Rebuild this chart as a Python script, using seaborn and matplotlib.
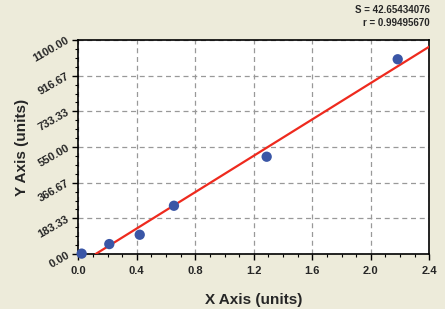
import numpy as np
import pandas as pd
import matplotlib
matplotlib.use("Agg")
import matplotlib.pyplot as plt
from matplotlib.ticker import AutoMinorLocator, FixedLocator
import seaborn as sns

# Data
x_vals = [0.023, 0.212, 0.42, 0.654, 1.288, 2.184]
y_vals = [2, 51, 99, 248, 500, 1001]
fit_slope = [467.3]
fit_intercept = [-55.6]
x_ticks = [0.0, 0.4, 0.8, 1.2, 1.6, 2.0, 2.4]
y_ticks = [0.00, 183.33, 366.67, 550.00, 733.33, 916.67, 1100.00]
y_tick_labels = ["0.00", "183.33", "366.67", "550.00", "733.33", "916.67", "1100.00"]
stats_text = ["S = 42.65434076", "r = 0.99495670"]

sns.set_style("white")
plt.rcParams['font.family'] = ['Liberation Sans', 'DejaVu Sans']

bg = "#EDEBDA"
fig = plt.figure(figsize=(4.45, 3.09), dpi=100, facecolor=bg)
ax = fig.add_axes([78.3/445, 1-254/309, (429.3-78.3)/445, (254-40)/309])
ax.set_facecolor("white")

df = pd.DataFrame({"x": x_vals, "y": y_vals})
x0 = -fit_intercept[0] / fit_slope[0]
line_df = pd.DataFrame({"x": [x0, 2.4]})
line_df["y"] = fit_slope[0] * line_df["x"] + fit_intercept[0]

sns.lineplot(data=line_df, x="x", y="y", ax=ax, color="#EE2A1E", lw=1.6, zorder=3)
sns.scatterplot(data=df, x="x", y="y", ax=ax, color="#3A56A6", s=55, marker="o",
                edgecolor="none", zorder=4, clip_on=False)

ax.set_xlim(0, 2.4)
ax.set_ylim(0, 1100)
ax.xaxis.set_major_locator(FixedLocator(x_ticks))
ax.yaxis.set_major_locator(FixedLocator(y_ticks))
ax.xaxis.set_minor_locator(AutoMinorLocator(4))
ax.yaxis.set_minor_locator(AutoMinorLocator(4))
ax.set_xticklabels([f"{t:.1f}" for t in x_ticks], fontsize=8, fontweight="bold")
ax.set_yticklabels(y_tick_labels, fontsize=8, fontweight="bold", rotation=30,
                   rotation_mode="anchor", ha="right", va="center")
ax.tick_params(axis="both", which="major", direction="out", length=4, width=1,
               color="black", left=True, bottom=True)
ax.tick_params(axis="x", which="major", pad=5)
ax.tick_params(axis="y", which="major", pad=3)
ax.tick_params(axis="both", which="minor", direction="out", length=2.5, width=0.8,
               color="black", left=True, bottom=True)
ax.grid(True, which="major", color="#999999", linestyle=(0, (4, 3)), lw=0.9)
for s in ax.spines.values():
    s.set_color("black")
    s.set_linewidth(1.2)

ax.set_xlabel("X Axis (units)", fontsize=11, fontweight="bold", labelpad=12)
ax.set_ylabel("Y Axis (units)", fontsize=11, fontweight="bold", labelpad=2)

fig.text(430/445, 1-10/309, stats_text[0], ha="right", va="center", fontsize=7, fontweight="bold")
fig.text(430/445, 1-23/309, stats_text[1], ha="right", va="center", fontsize=7, fontweight="bold")

fig.savefig("out.png", dpi=100, facecolor=bg)
